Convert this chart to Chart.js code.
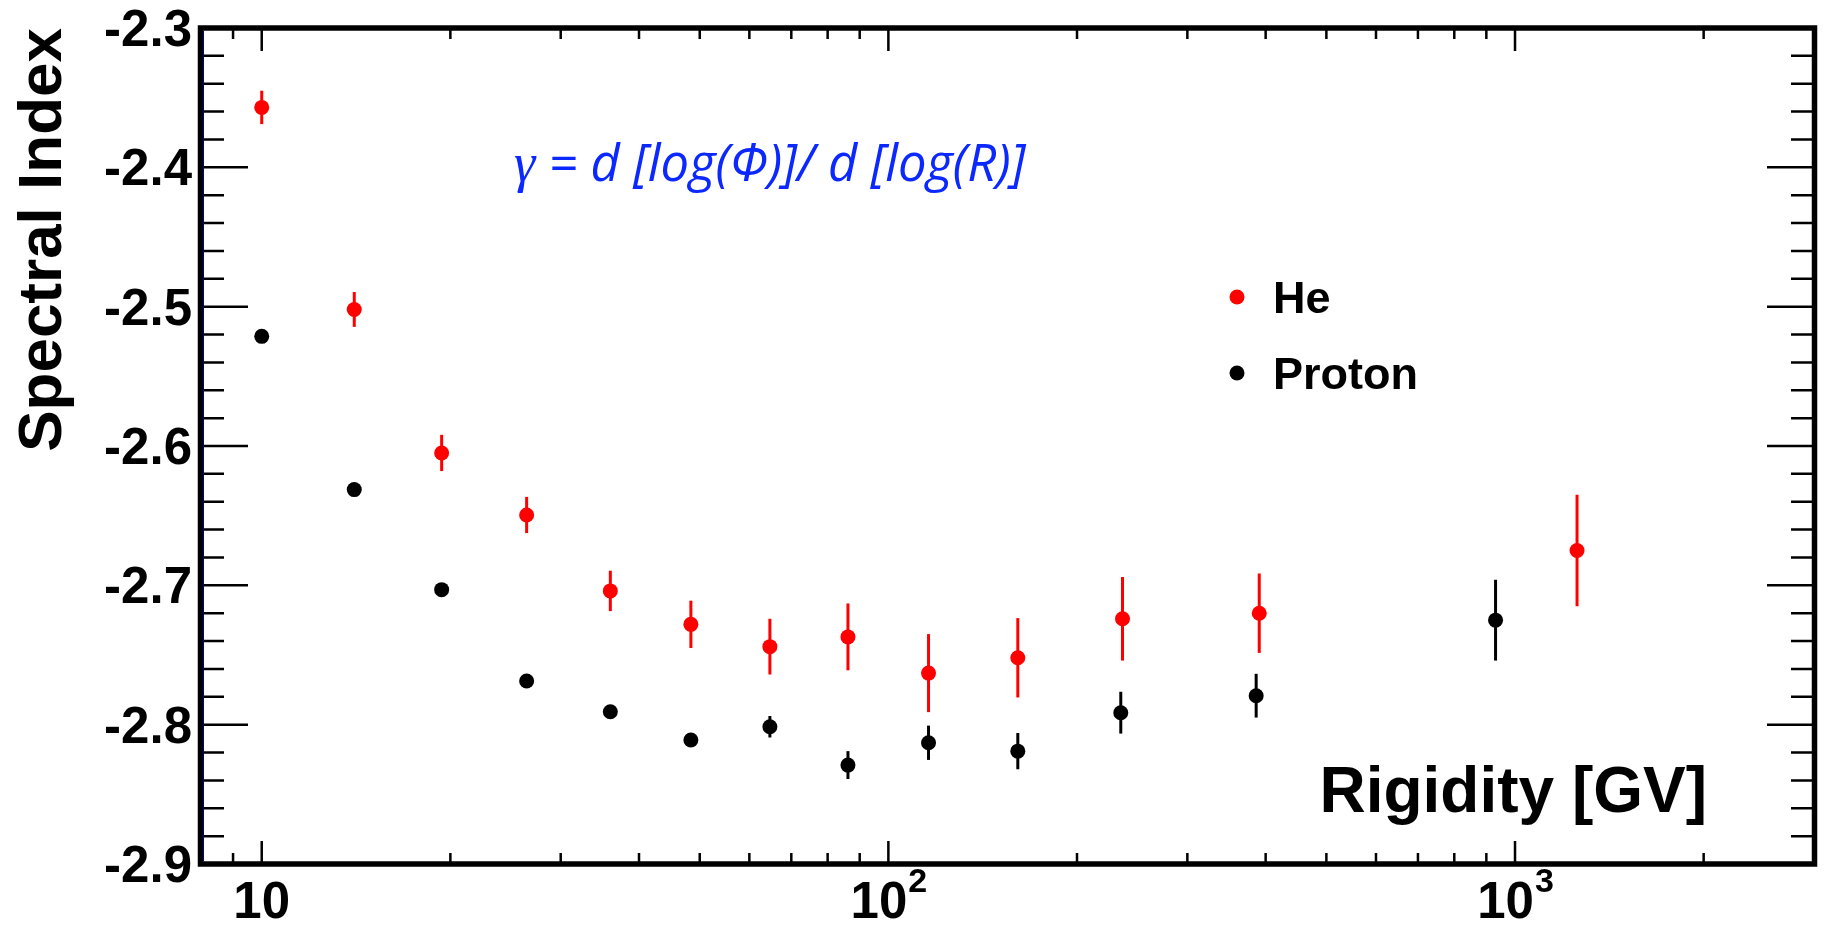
<!DOCTYPE html>
<html>
<head>
<meta charset="utf-8">
<title>Spectral Index vs Rigidity</title>
<script src="https://cdn.jsdelivr.net/npm/chart.js@4.4.1/dist/chart.umd.min.js"></script>
<style>
  html, body { margin: 0; padding: 0; background: #ffffff; }
  #wrap { width: 1825px; height: 946px; position: relative; }
</style>
</head>
<body>
<div id="wrap"><canvas id="c"></canvas></div>
<script>
// Rigidity bin centres [GV], spectral index and its uncertainty
const heRigidity = [10.0, 14.05, 19.37, 26.47, 36.0, 48.4, 64.7, 86.2, 115.9, 160.9, 236.4, 390.7, 1256];
const heIndex    = [-2.357, -2.502, -2.605, -2.6495, -2.704, -2.728, -2.744, -2.737, -2.763, -2.752, -2.724, -2.720, -2.675];
const heError    = [0.012, 0.0125, 0.013, 0.013, 0.0145, 0.017, 0.020, 0.024, 0.028, 0.0285, 0.030, 0.0285, 0.040];

const protonRigidity = [10.0, 14.05, 19.37, 26.47, 36.0, 48.4, 64.7, 86.2, 115.9, 160.9, 234.9, 386.3, 931];
const protonIndex    = [-2.5213, -2.6313, -2.7031, -2.7687, -2.7907, -2.811, -2.8015, -2.829, -2.813, -2.819, -2.7914, -2.7792, -2.725];
const protonError    = [0.003, 0.003, 0.003, 0.003, 0.004, 0.005, 0.0077, 0.010, 0.0123, 0.013, 0.015, 0.0157, 0.029];

const seriesNames  = ['He', 'Proton'];
const seriesColors = ['#ff0000', '#000000'];

// Axis labelling
const yTickValues = [-2.3, -2.4, -2.5, -2.6, -2.7, -2.8, -2.9];
const yTickLabels = ['-2.3', '-2.4', '-2.5', '-2.6', '-2.7', '-2.8', '-2.9'];
const xTickValues   = [10, 100, 1000];
const xTickBase     = ['10', '10', '10'];
const xTickExponent = ['', '2', '3'];
const xTitle = 'Rigidity [GV]';
const yTitle = 'Spectral Index';
const formulaSymbol = 'γ';
const formulaText   = ' = d [log(Φ)]/ d [log(R)]';

const X_MIN = 8, X_MAX = 3000, Y_MIN = -2.9, Y_MAX = -2.3;

function toPoints(xs, ys) { return xs.map((x, i) => ({ x: x, y: ys[i] })); }

const errorSets = [heError, protonError];

// Vertical error bars, drawn through the chart's own scales
const errorBars = {
  id: 'errorBars',
  beforeDatasetsDraw(chart) {
    const { ctx, scales: { x, y } } = chart;
    ctx.save();
    ctx.lineWidth = 3;
    chart.data.datasets.forEach((ds, di) => {
      const errs = errorSets[di];
      ctx.strokeStyle = ds.backgroundColor;
      ds.data.forEach((p, i) => {
        const px = x.getPixelForValue(p.x);
        ctx.beginPath();
        ctx.moveTo(px, y.getPixelForValue(p.y - errs[i]));
        ctx.lineTo(px, y.getPixelForValue(p.y + errs[i]));
        ctx.stroke();
      });
    });
    ctx.restore();
  }
};

// Frame, inward ticks on all four sides, labels, titles, legend and formula
const frameAxes = {
  id: 'frameAxes',
  afterDraw(chart) {
    const { ctx, chartArea: a, scales: { x, y } } = chart;
    const L = a.left, R = a.right, T = a.top, B = a.bottom;
    ctx.save();

    // y ticks (major every 0.1, minor every 0.02), both sides
    ctx.strokeStyle = '#000';
    ctx.lineWidth = 2.5;
    for (let k = 0; k <= 30; k++) {
      const v = Y_MIN + k * 0.02;
      const py = y.getPixelForValue(v);
      const len = (k % 5 === 0) ? 47 : 23;
      ctx.beginPath();
      ctx.moveTo(L, py); ctx.lineTo(L + len, py);
      ctx.moveTo(R, py); ctx.lineTo(R - len, py);
      ctx.stroke();
    }
    // x ticks (log decades major, integers minor), both sides
    for (let dec = 1; dec <= 1000; dec *= 10) {
      for (let m = 1; m <= 9; m++) {
        const v = m * dec;
        if (v <= X_MIN || v >= X_MAX) continue;
        const px = x.getPixelForValue(v);
        const major = (m === 1);
        const lenB = major ? 23 : 11;
        ctx.beginPath();
        ctx.moveTo(px, B); ctx.lineTo(px, B - lenB);
        ctx.moveTo(px, T); ctx.lineTo(px, T + lenB);
        ctx.stroke();
      }
    }

    // frame
    ctx.lineWidth = 5.5;
    ctx.strokeStyle = '#000';
    ctx.strokeRect(L - 0.5, T, R - L + 1, B - T);
    ctx.lineWidth = 1;
    ctx.strokeStyle = '#00008b';
    ctx.beginPath();
    ctx.moveTo(L + 2.5, T + 3); ctx.lineTo(L + 2.5, B - 3);
    ctx.stroke();

    // y tick labels
    ctx.fillStyle = '#000';
    ctx.font = 'bold 51px "Liberation Sans", Arial, sans-serif';
    ctx.textAlign = 'right';
    ctx.textBaseline = 'alphabetic';
    yTickValues.forEach((v, i) => {
      ctx.fillText(yTickLabels[i], L - 9, y.getPixelForValue(v) + 18);
    });

    // x tick labels with exponents
    const baseFont = 'bold 51px "Liberation Sans", Arial, sans-serif';
    const supFont = 'bold 34px "Liberation Sans", Arial, sans-serif';
    ctx.textAlign = 'left';
    xTickValues.forEach((v, i) => {
      const px = x.getPixelForValue(v);
      ctx.font = baseFont;
      const wb = ctx.measureText(xTickBase[i]).width;
      ctx.font = supFont;
      const ws = xTickExponent[i] ? ctx.measureText(xTickExponent[i]).width : 0;
      const x0 = px - (wb + ws) / 2;
      ctx.font = baseFont;
      ctx.fillText(xTickBase[i], x0, 918);
      if (xTickExponent[i]) {
        ctx.font = supFont;
        ctx.fillText(xTickExponent[i], x0 + wb + 1, 892);
      }
    });

    // axis titles
    ctx.font = 'bold 64px "Liberation Sans", Arial, sans-serif';
    ctx.textAlign = 'right';
    ctx.fillText(xTitle, 1707, 812);

    ctx.save();
    ctx.translate(61, T);
    ctx.rotate(-Math.PI / 2);
    ctx.font = 'bold 62px "Liberation Sans", Arial, sans-serif';
    ctx.textAlign = 'right';
    ctx.fillText(yTitle, 0, 0);
    ctx.restore();

    // legend
    ctx.textAlign = 'left';
    ctx.font = 'bold 45px "Liberation Sans", Arial, sans-serif';
    const legendRows = [297, 373];
    chart.data.datasets.forEach((ds, i) => {
      ctx.fillStyle = ds.backgroundColor;
      ctx.beginPath();
      ctx.arc(1237, legendRows[i], 7.5, 0, Math.PI * 2);
      ctx.fill();
      ctx.fillStyle = '#000';
      ctx.fillText(ds.label, 1273, legendRows[i] + 16);
    });

    // formula
    ctx.fillStyle = '#0a28ff';
    ctx.font = 'italic 54px "Liberation Serif", "DejaVu Serif", serif';
    ctx.fillText(formulaSymbol, 514, 181);
    const gw = ctx.measureText(formulaSymbol).width;
    ctx.font = 'italic 100px "Open Sans", sans-serif';
    const w100 = ctx.measureText(formulaText).width;
    const fs = 100 * (1026 - 514 - gw) / w100;
    ctx.font = 'italic ' + fs.toFixed(1) + 'px "Open Sans", sans-serif';
    ctx.fillText(formulaText, 514 + gw, 181);

    ctx.restore();
  }
};

new Chart(document.getElementById('c'), {
  type: 'scatter',
  data: {
    datasets: [
      {
        label: seriesNames[0],
        data: toPoints(heRigidity, heIndex),
        backgroundColor: seriesColors[0],
        borderColor: seriesColors[0],
        pointRadius: 7.5,
        pointBorderWidth: 0,
        pointHoverRadius: 7.5
      },
      {
        label: seriesNames[1],
        data: toPoints(protonRigidity, protonIndex),
        backgroundColor: seriesColors[1],
        borderColor: seriesColors[1],
        pointRadius: 7.5,
        pointBorderWidth: 0,
        pointHoverRadius: 7.5
      }
    ]
  },
  options: {
    responsive: true,
    maintainAspectRatio: false,
    devicePixelRatio: 1,
    animation: false,
    layout: { padding: { left: 201, top: 28, right: 11, bottom: 82 } },
    plugins: { legend: { display: false }, tooltip: { enabled: false } },
    scales: {
      x: { type: 'logarithmic', min: X_MIN, max: X_MAX, display: false },
      y: { type: 'linear', min: Y_MIN, max: Y_MAX, display: false }
    }
  },
  plugins: [errorBars, frameAxes]
});
</script>
</body>
</html>
